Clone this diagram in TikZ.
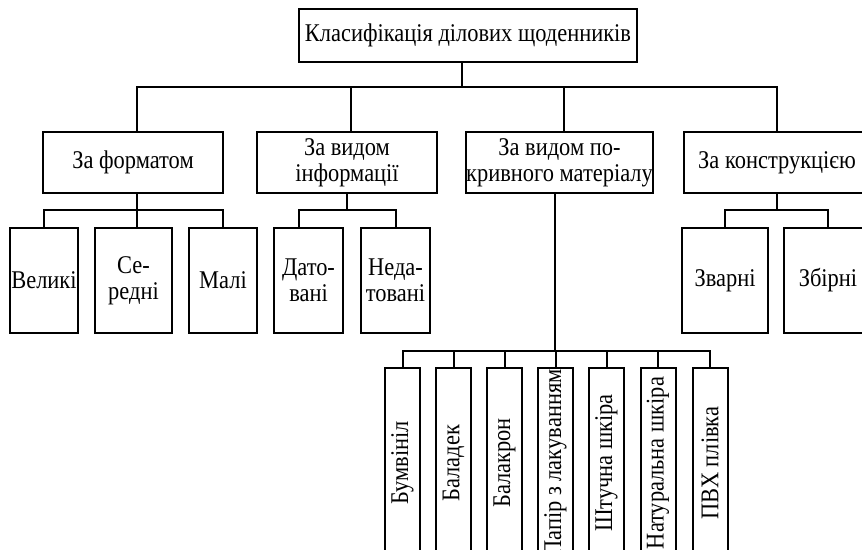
\documentclass[tikz,border=0pt]{standalone}
\usepackage{graphicx}
\usepackage{fontspec}
\setmainfont{Liberation Serif}[FakeStretch=0.88]
\begin{document}
\begin{tikzpicture}[x=1pt,y=-1pt,
  box/.style={draw,line width=2pt,inner sep=0pt,align=center,
    font=\fontsize{25.5}{26}\selectfont},
  ln/.style={line width=2pt,line join=miter}]
\useasboundingbox (0,0) rectangle (862,549);
\clip (0,0) rectangle (862,549);
% top
\node[box,minimum width=338pt,minimum height=53pt] (top) at (468,35.5) {Класифікація ділових щоденників};
% second row
\node[box,minimum width=180pt,minimum height=61pt] (f1) at (133,162.5) {За форматом};
\node[box,minimum width=180pt,minimum height=61pt] (f2) at (347,162.5) {За видом\\інформації};
\node[box,minimum width=179pt,minimum height=61pt] (f3) at (559.5,162.5) {За видом по-\\кривного матеріалу};
\node[box,minimum width=186pt,minimum height=61pt] (f4) at (777,162.5) {За конструкцією};
% third row
\node[box,minimum width=68pt,minimum height=105pt] (a1) at (44,280.5) {Великі};
\node[box,minimum width=77pt,minimum height=105pt] (a2) at (133.5,280.5) {Се-\\редні};
\node[box,minimum width=68pt,minimum height=105pt] (a3) at (223,280.5) {Малі};
\node[box,minimum width=69pt,minimum height=105pt] (b1) at (308.5,280.5) {Дато-\\вані};
\node[box,minimum width=69pt,minimum height=105pt] (b2) at (395.5,280.5) {Неда-\\товані};
\node[box,minimum width=86pt,minimum height=105pt] (d1) at (725,280.5) {Зварні};
\node[box,minimum width=88pt,minimum height=105pt] (d2) at (828,280.5) {Збірні};
% fourth row
\foreach \n/\x/\t in {c1/402.5/Бумвініл,c2/453.5/Баладек,c3/504.5/Балакрон,c4/555.5/Папір з лакуванням,c5/606.5/Штучна шкіра,c6/658/Натуральна шкіра,c7/710/ПВХ плівка}{
  \node[box,minimum width=35pt,minimum height=190pt] (\n) at (\x,463) {\rotatebox{90}{\t}};
}
% buses
\coordinate (bus0) at (0,87);
\coordinate (busA) at (0,210);
\coordinate (busC) at (0,351);
% top connectors
\draw[ln] ([xshift=-6pt]top.south) -- ([xshift=-6pt]top.south |- bus0);
\draw[ln] ([xshift=4pt]f1.north) |- (f4.north |- bus0) -- (f4.north);
\draw[ln] ([xshift=4pt]f2.north) -- ([xshift=4pt]f2.north |- bus0);
\draw[ln] ([xshift=4.5pt]f3.north) -- ([xshift=4.5pt]f3.north |- bus0);
% f1
\draw[ln] ([xshift=4pt]f1.south) -- ([xshift=4pt]f1.south |- busA);
\draw[ln] (a1.north) |- (a3.north |- busA) -- (a3.north);
\draw[ln] ([xshift=3.5pt]a2.north) -- ([xshift=3.5pt]a2.north |- busA);
% f2
\draw[ln] (f2.south) -- (f2.south |- busA);
\draw[ln] ([xshift=-9.5pt]b1.north) |- (b2.north |- busA) -- (b2.north);
% f3
\draw[ln] ([xshift=-4.5pt]f3.south) -- ([xshift=-4.5pt]f3.south |- busC);
\draw[ln] (c1.north) |- (c7.north |- busC) -- (c7.north);
\foreach \n in {c2,c3,c4,c5,c6}{
  \draw[ln] (\n.north) -- (\n.north |- busC);
}
% f4
\draw[ln] (f4.south) -- (f4.south |- busA);
\draw[ln] (d1.north) |- (d2.north |- busA) -- (d2.north);
\end{tikzpicture}
\end{document}
